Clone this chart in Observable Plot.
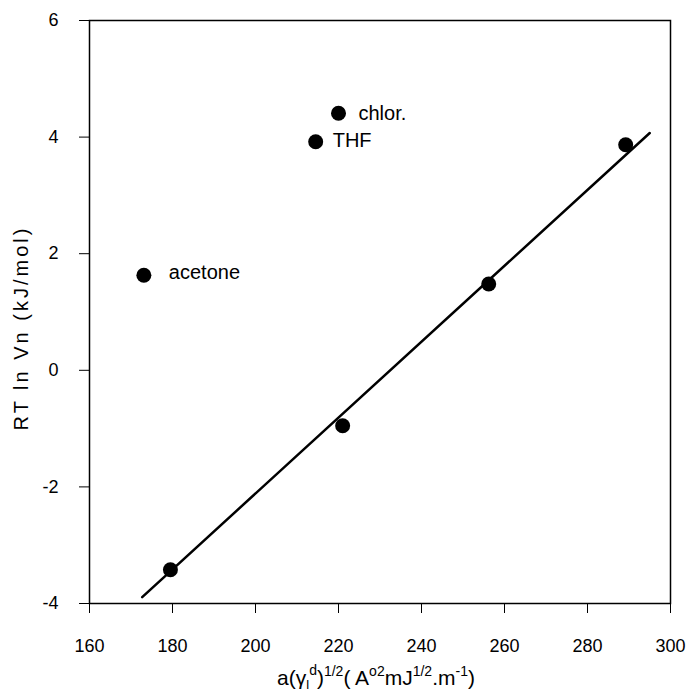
<!DOCTYPE html>
<html>
<head>
<meta charset="utf-8">
<script src="https://cdn.jsdelivr.net/npm/d3@7"></script>
<script src="https://cdn.jsdelivr.net/npm/@observablehq/plot@0.6"></script>
<style>
  html, body { margin: 0; padding: 0; background: #fff; }
  #chart svg { display: block; }
</style>
</head>
<body>
<div id="chart"></div>
<script>
// Solvent probes (labelled points)
const probeNames = ["acetone", "THF", "chlor."];
const probeX = [173.1, 214.5, 220.0];
const probeY = [1.63, 3.92, 4.41];

// Alkane probes (on the reference line)
const alkaneX = [179.5, 221.0, 256.2, 289.2];
const alkaneY = [-3.42, -0.95, 1.48, 3.87];

// Reference line end points
const lineX = [172.7, 295.0];
const lineY = [-3.89, 4.07];

const xTicks = [160, 180, 200, 220, 240, 260, 280, 300];
const yTicks = [-4, -2, 0, 2, 4, 6];

const probes = probeNames.map((n, i) => ({name: n, x: probeX[i], y: probeY[i]}));
const alkanes = alkaneX.map((x, i) => ({x, y: alkaneY[i]}));
const refLine = lineX.map((x, i) => ({x, y: lineY[i]}));

const font = "Liberation Sans, Arial, Helvetica, sans-serif";

const plot = Plot.plot({
  width: 690,
  height: 692,
  marginLeft: 89,
  marginRight: 20,
  marginTop: 20,
  marginBottom: 89,
  style: {fontFamily: font, fontSize: "18px", color: "#000", background: "#fff"},
  x: {domain: [160, 300], ticks: xTicks},
  y: {domain: [-4, 6], ticks: yTicks},
  marks: [
    Plot.frame({stroke: "#000", strokeWidth: 1.5}),
    Plot.axisX({ticks: xTicks, tickSize: 10, tickPadding: 26, label: null, fontSize: 18, strokeWidth: 1, tickFormat: d => String(d)}),
    Plot.axisY({ticks: yTicks, tickSize: 10, tickPadding: 21, label: null, fontSize: 18, strokeWidth: 1, tickFormat: d => String(d)}),
    Plot.line(refLine, {x: "x", y: "y", stroke: "#000", strokeWidth: 2.5}),
    Plot.dot(alkanes, {x: "x", y: "y", r: 7.5, fill: "#000"}),
    Plot.dot(probes, {x: "x", y: "y", r: 7.5, fill: "#000"}),
    Plot.text(probes.filter(d => d.name === "acetone"), {x: "x", y: "y", text: "name", textAnchor: "start", dx: 25, dy: -3, fontSize: 20, fill: "#000"}),
    Plot.text(probes.filter(d => d.name === "THF"), {x: "x", y: "y", text: "name", textAnchor: "start", dx: 17, dy: -1, fontSize: 20, fill: "#000"}),
    Plot.text(probes.filter(d => d.name === "chlor."), {x: "x", y: "y", text: "name", textAnchor: "start", dx: 20, dy: 0, fontSize: 20, fill: "#000"})
  ]
});

const svg = d3.select(plot);

// Y axis title
svg.append("text")
  .attr("transform", "translate(28,328) rotate(-90)")
  .attr("text-anchor", "middle")
  .attr("font-family", font)
  .attr("font-size", 20)
  .attr("letter-spacing", "3px")
  .attr("fill", "#000")
  .text("RT ln Vn (kJ/mol)");

// X axis title with super/subscripts
const xt = svg.append("text")
  .attr("x", 376)
  .attr("y", 685)
  .attr("text-anchor", "middle")
  .attr("font-family", font)
  .attr("font-size", 21)
  .attr("fill", "#000");
xt.append("tspan").text("a(γ");
xt.append("tspan").attr("font-size", 13).attr("dy", 4).text("l");
xt.append("tspan").attr("font-size", 14).attr("dy", -14).text("d");
xt.append("tspan").attr("dy", 10).text(")");
xt.append("tspan").attr("font-size", 14).attr("dy", -9).text("1/2");
xt.append("tspan").attr("dy", 9).text("( A");
xt.append("tspan").attr("font-size", 14).attr("dy", -9).text("o2");
xt.append("tspan").attr("dy", 9).text("mJ");
xt.append("tspan").attr("font-size", 14).attr("dy", -9).text("1/2");
xt.append("tspan").attr("dy", 9).text(".m");
xt.append("tspan").attr("font-size", 14).attr("dy", -9).text("-1");
xt.append("tspan").attr("dy", 9).text(")");

document.getElementById("chart").appendChild(plot);
</script>
</body>
</html>
